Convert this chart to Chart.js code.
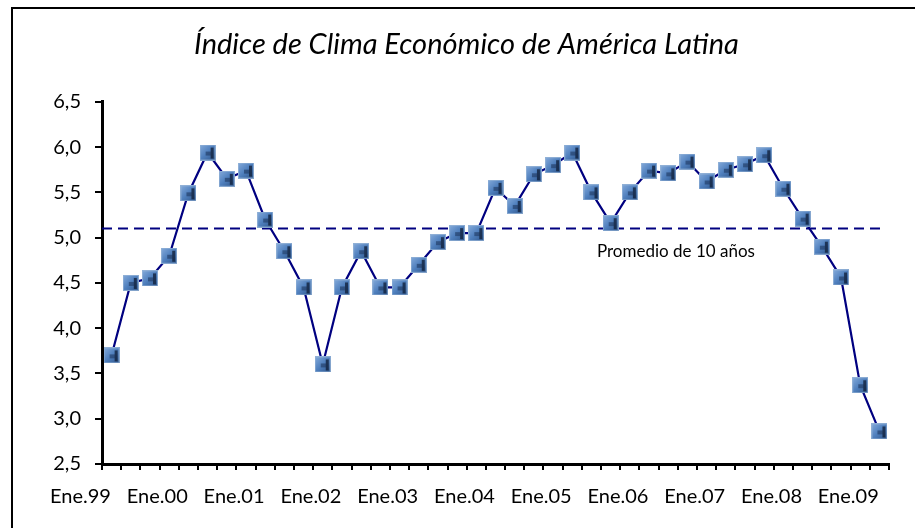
<!DOCTYPE html>
<html>
<head>
<meta charset="utf-8">
<script src="https://cdn.jsdelivr.net/npm/chart.js@4.4.1/dist/chart.umd.min.js"></script>
<style>
  html, body { margin: 0; padding: 0; background: #fff; overflow: hidden; }
  #wrap { position: relative; width: 915px; height: 528px; }
  #frame { position: absolute; left: 11px; top: 7px; width: 920px; height: 540px;
           border-left: 2px solid #000; border-top: 2px solid #000; pointer-events: none; }
</style>
</head>
<body>
<div id="wrap">
  <canvas id="climaChart" width="915" height="528"></canvas>
  <div id="frame"></div>
</div>
<script>
// Quarterly index values, Ene.99 .. Ene.09
const values = [3.70, 4.50, 4.55, 4.80, 5.49, 5.94, 5.65, 5.74, 5.20, 4.85,
                4.45, 3.60, 4.45, 4.85, 4.45, 4.45, 4.70, 4.95, 5.05, 5.05,
                5.55, 5.35, 5.70, 5.80, 5.94, 5.50, 5.16, 5.50, 5.74, 5.71,
                5.84, 5.62, 5.75, 5.81, 5.91, 5.54, 5.21, 4.90, 4.56, 3.37, 2.86];
const yearLabels = ['Ene.99', 'Ene.00', 'Ene.01', 'Ene.02', 'Ene.03', 'Ene.04',
                    'Ene.05', 'Ene.06', 'Ene.07', 'Ene.08', 'Ene.09'];
const yTicks = [2.5, 3.0, 3.5, 4.0, 4.5, 5.0, 5.5, 6.0, 6.5];
const average = 5.1;
const averageLabel = 'Promedio de 10 años';

// Marker image, a bluish square like the original
function makeMarker() {
    const c = document.createElement('canvas');
    c.width = 16; c.height = 16;
    const g = c.getContext('2d');
    const grad = g.createLinearGradient(0, 0, 16, 16);
    grad.addColorStop(0, '#86acdc');
    grad.addColorStop(0.5, '#4f7fbd');
    grad.addColorStop(1, '#2e5488');
    g.fillStyle = grad;
    g.fillRect(0, 0, 16, 16);
    g.fillStyle = 'rgba(15,30,55,0.75)';
    g.fillRect(11, 3, 3, 11);
    g.fillStyle = 'rgba(30,55,95,0.6)';
    g.fillRect(6, 7, 5, 4);
    g.strokeStyle = 'rgba(150,180,215,0.8)';
    g.lineWidth = 1;
    g.strokeRect(0.5, 0.5, 15, 15);
    return c;
}

const xTicks = [];
for (let i = 0; i <= values.length; i++) xTicks.push(i - 0.5);

// text label for the average line
const avgTextPlugin = {
    id: 'avgText',
    afterDatasetsDraw(chart) {
        const ctx = chart.ctx;
        const x = chart.scales.x.getPixelForValue(29.4);
        const y = chart.scales.y.getPixelForValue(4.85);
        ctx.save();
        ctx.font = '17px Lato';
        ctx.fillStyle = '#000';
        ctx.textAlign = 'center';
        ctx.textBaseline = 'middle';
        ctx.fillText(averageLabel, x, y);
        ctx.restore();
    }
};

const ctx = document.getElementById('climaChart').getContext('2d');
const chart = new Chart(ctx, {
    type: 'line',
    data: {
        datasets: [{
            label: 'Índice',
            data: values.map((v, i) => ({ x: i, y: v })),
            borderColor: '#000080',
            borderWidth: 2.2,
            pointStyle: makeMarker(),
            pointRadius: 8,
            tension: 0,
            order: 0
        }, {
            label: 'Promedio',
            data: [{ x: -0.5, y: average }, { x: values.length - 0.95, y: average }],
            borderColor: '#000080',
            borderWidth: 2,
            borderDash: [10, 6],
            pointRadius: 0,
            order: 1
        }]
    },
    options: {
        responsive: false,
        animation: false,
        layout: { padding: { left: 44, right: 26, top: 0, bottom: 0 } },
        plugins: {
            legend: { display: false },
            tooltip: { enabled: false },
            title: {
                display: true,
                text: 'Índice de Clima Económico de América Latina',
                color: '#000',
                font: { family: 'Lato', size: 29, style: 'italic', weight: 'normal' },
                padding: { top: 27, bottom: 40 }
            }
        },
        scales: {
            x: {
                type: 'linear',
                min: -0.5,
                max: values.length - 0.5,
                afterBuildTicks: function(scale) {
                    scale.ticks = xTicks.map(v => ({ value: v }));
                },
                afterFit: function(scale) { scale.height = 64; },
                ticks: {
                    autoSkip: false,
                    maxRotation: 0,
                    padding: 15,
                    labelOffset: -21.5,
                    color: '#000',
                    font: { family: 'Lato', size: 20 },
                    callback: function(value, index) {
                        return index % 4 === 0 ? yearLabels[index / 4] : '';
                    }
                },
                grid: { drawOnChartArea: false, drawTicks: true, tickLength: 6, color: '#000', lineWidth: 2 },
                border: { color: '#000', width: 3 }
            },
            y: {
                min: 2.5,
                max: 6.5,
                afterBuildTicks: function(scale) {
                    scale.ticks = yTicks.map(v => ({ value: v }));
                },
                afterFit: function(scale) { scale.width = 58; },
                ticks: {
                    padding: 14,
                    color: '#000',
                    font: { family: 'Lato', size: 20 },
                    callback: function(value) {
                        return value.toFixed(1).replace('.', ',');
                    }
                },
                grid: { drawOnChartArea: false, drawTicks: true, tickLength: 7, color: '#000', lineWidth: 2 },
                border: { color: '#000', width: 3 }
            }
        }
    },
    plugins: [avgTextPlugin]
});
</script>
</body>
</html>
